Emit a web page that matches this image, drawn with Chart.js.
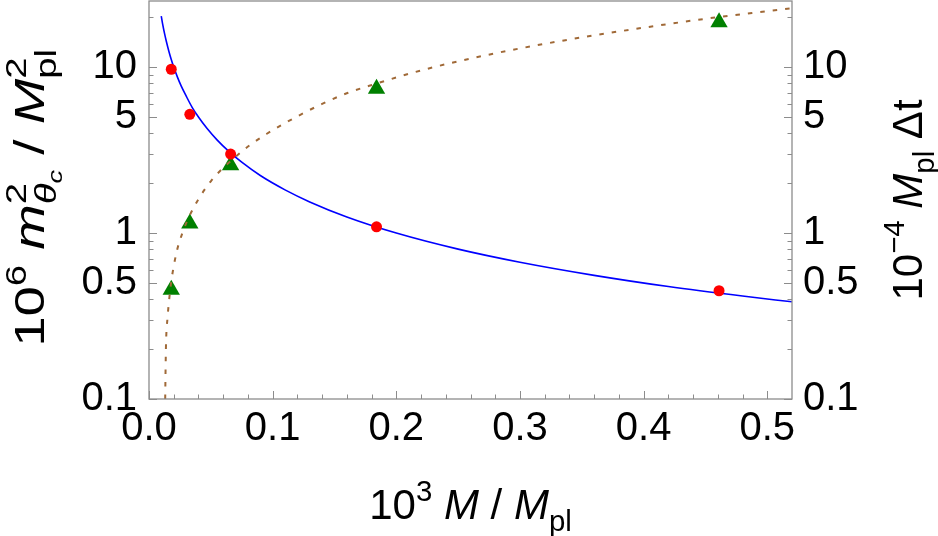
<!DOCTYPE html>
<html><head><meta charset="utf-8">
<script src="https://cdn.jsdelivr.net/npm/chart.js@4.4.1/dist/chart.umd.min.js"></script>
<style>html,body{margin:0;padding:0;background:#fff;}canvas{display:block;}</style>
</head><body>
<canvas id="c" width="938" height="536"></canvas>
<script>
const FONT = '"Liberation Sans", Arial, Helvetica, sans-serif';

// tick labels
const xTickValues = [0, 0.1, 0.2, 0.3, 0.4, 0.5];
const xMinorTicks = [0.02,0.04,0.06,0.08,0.12,0.14,0.16,0.18,0.22,0.24,0.26,0.28,0.32,0.34,0.36,0.38,0.42,0.44,0.46,0.48];
const yTickValues = [0.1, 0.5, 1, 5, 10];
const yMinorTicks = [0.2,0.3,0.4,0.6,0.7,0.8,0.9,2,3,4,6,7,8,9,20];

// data points
const pointX     = [0.018, 0.033, 0.066, 0.184, 0.461];
const massValues = [9.7, 5.19, 2.99, 1.09, 0.449];     // red circles (left axis)
const timeValues = [0.455, 1.14, 2.56, 7.4, 18.6];     // green triangles (right axis)

// blue solid curve
const massCurveX = [0.0099,0.011,0.0125,0.014,0.016,0.018,0.02,0.023,0.026,0.03,0.035,0.04,0.047,0.055,0.065,0.075,0.09,0.11,0.13,0.16,0.2,0.25,0.3,0.36,0.42,0.48,0.52];
const massCurveY = [20.3,18.2,16.0,14.3,12.5,11.1,10.0,8.7,7.7,6.7,5.7,5.0,4.26,3.64,3.08,2.67,2.22,1.82,1.54,1.25,1.0,0.8,0.667,0.556,0.476,0.417,0.385];

// brown dotted curve
const timeCurveX = [0.0131,0.0134,0.0138,0.015,0.0165,0.018,0.022,0.027,0.033,0.04,0.05,0.06,0.07,0.082,0.095,0.11,0.122,0.14,0.161,0.184,0.21,0.24,0.28,0.32,0.364,0.412,0.458,0.5,0.52];
const timeCurveY = [0.1,0.15,0.22,0.31,0.41,0.51,0.75,1.0,1.28,1.6,2.05,2.47,2.88,3.4,3.95,4.6,5.14,6.0,7.0,7.95,9.1,10.4,12.1,13.8,15.7,17.8,19.9,21.7,22.6];

const zip = (xs, ys) => xs.map((v, i) => ({x: v, y: ys[i]}));

function fontOf(p, fs) {
  return (p.it ? 'italic ' : '') + (fs * (p.s || 1)).toFixed(1) + 'px ' + FONT;
}
function runWidth(ctx, parts, fs) {
  let w = 0;
  for (const p of parts) {
    if (p.stack) w += Math.max(...p.stack.map(r => runWidth(ctx, r, fs)));
    else { ctx.font = fontOf(p, fs); w += ctx.measureText(p.t).width + (p.k || 0) * fs; }
  }
  return w;
}
function drawRun(ctx, parts, fs, x, y) {
  for (const p of parts) {
    if (p.stack) {
      let mw = 0;
      for (const r of p.stack) mw = Math.max(mw, drawRun(ctx, r, fs, x, y) - x);
      x += mw;
    } else {
      ctx.font = fontOf(p, fs);
      ctx.fillText(p.t, x, y + (p.dy || 0) * fs);
      x += ctx.measureText(p.t).width + (p.k || 0) * fs;
    }
  }
  return x;
}

const leftTitle = [
  {t:'10'}, {t:'6', s:0.7, dy:-0.42}, {t:' '}, {t:'m', it:true},
  {stack:[[{t:'2', s:0.7, dy:-0.42}], [{t:'θ', s:0.7, dy:0.28, it:true}, {t:'c', s:0.5, dy:0.42, it:true}]]},
  {t:' / '}, {t:'M', it:true},
  {stack:[[{t:'2', s:0.7, dy:-0.42}], [{t:'pl', s:0.7, dy:0.28}]]}
];
const rightTitle = [
  {t:'10'}, {t:'−4', s:0.7, dy:-0.42}, {t:' '}, {t:'M', it:true}, {t:'pl', s:0.7, dy:0.28}, {t:' Δt'}
];
const bottomTitle = [
  {t:'10'}, {t:'3', s:0.7, dy:-0.42}, {t:' '}, {t:'M', it:true}, {t:' / '}, {t:'M', it:true}, {t:'pl', s:0.7, dy:0.28}
];

const decor = {
  id: 'decor',
  afterDraw(chart) {
    const {ctx, chartArea: a, scales: {x, y}} = chart;
    ctx.save();
    // frame
    ctx.strokeStyle = '#8c8c8c';
    ctx.lineWidth = 1.3;
    ctx.strokeRect(a.left, a.top, a.right - a.left, a.bottom - a.top);
    // ticks (inward)
    ctx.lineWidth = 1;
    ctx.strokeStyle = '#8c8c8c';
    ctx.beginPath();
    const xt = (v, L) => { const p = Math.round(x.getPixelForValue(v)) + 0.5; ctx.moveTo(p, a.bottom); ctx.lineTo(p, a.bottom - L); };
    xTickValues.forEach(v => xt(v, 8));
    xMinorTicks.forEach(v => xt(v, 4.5));
    const yt = (v, L) => {
      const p = Math.round(y.getPixelForValue(v)) + 0.5;
      ctx.moveTo(a.left, p); ctx.lineTo(a.left + L, p);
      ctx.moveTo(a.right, p); ctx.lineTo(a.right - L, p);
    };
    yTickValues.forEach(v => yt(v, 8));
    yMinorTicks.forEach(v => yt(v, 4.5));
    ctx.stroke();

    // axis titles
    const fs = 42;
    ctx.fillStyle = '#000';
    ctx.textBaseline = 'alphabetic';
    ctx.textAlign = 'left';
    const cx = (a.left + a.right) / 2, cy = (a.top + a.bottom) / 2;
    let w = runWidth(ctx, bottomTitle, fs);
    drawRun(ctx, bottomTitle, fs, cx - w / 2, 519);

    ctx.save();
    ctx.translate(44, 198); ctx.rotate(-Math.PI / 2); ctx.scale(1.3, 1);
    w = runWidth(ctx, leftTitle, fs);
    drawRun(ctx, leftTitle, fs, -w / 2, 0);
    ctx.restore();

    ctx.save();
    ctx.translate(922, cy); ctx.rotate(-Math.PI / 2);
    w = runWidth(ctx, rightTitle, fs);
    drawRun(ctx, rightTitle, fs, -w / 2, 0);
    ctx.restore();
    ctx.restore();
  }
};

const tickFont = {family: FONT, size: 40};
const yScale = (pos, width) => ({
  type: 'logarithmic', position: pos, min: 0.1, max: 25,
  grid: {display: false, drawTicks: false}, border: {display: false},
  ticks: {color: '#000', font: tickFont, padding: pos === 'left' ? 12 : 11, autoSkip: false, callback: v => String(v)},
  afterBuildTicks: s => { s.ticks = yTickValues.map(v => ({value: v})); },
  afterFit: s => { s.width = width; s.paddingTop = 0; s.paddingBottom = 0; }
});

new Chart(document.getElementById('c'), {
  type: 'scatter',
  data: {
    datasets: [
      {label: 'mass points', data: zip(pointX, massValues), pointStyle: 'circle', pointRadius: 5.5,
       backgroundColor: '#ff0000', borderWidth: 0, order: 0},
      {label: 'mass curve', data: zip(massCurveX, massCurveY), showLine: true, pointRadius: 0,
       borderColor: '#0000ff', borderWidth: 1.6, cubicInterpolationMode: 'monotone', order: 1},
      {label: 'time curve', data: zip(timeCurveX, timeCurveY), showLine: true, pointRadius: 0,
       borderColor: 'rgb(160,105,55)', borderWidth: 2, borderDash: [4.5, 8], cubicInterpolationMode: 'monotone', order: 2},
      {label: 'time points', data: zip(pointX, timeValues), pointStyle: 'triangle', pointRadius: 10,
       backgroundColor: '#008000', borderWidth: 0, yAxisID: 'y', order: 3}
    ]
  },
  options: {
    responsive: false, animation: false, devicePixelRatio: 1,
    layout: {autoPadding: false, padding: {top: 1, left: 0, right: 0, bottom: 0}},
    plugins: {legend: {display: false}, tooltip: {enabled: false}},
    scales: {
      x: {
        type: 'linear', position: 'bottom', min: 0, max: 0.52,
        grid: {display: false, drawTicks: false}, border: {display: false},
        ticks: {color: '#000', font: tickFont, padding: 6, maxRotation: 0, autoSkip: false, includeBounds: false,
                callback: v => Number(v).toFixed(1)},
        afterBuildTicks: s => { s.ticks = xTickValues.map(v => ({value: v})); },
        afterFit: s => { s.height = 137; s.paddingLeft = 0; s.paddingRight = 0; }
      },
      y: yScale('left', 149),
      y2: yScale('right', 146)
    }
  },
  plugins: [decor]
});
</script>
</body></html>
